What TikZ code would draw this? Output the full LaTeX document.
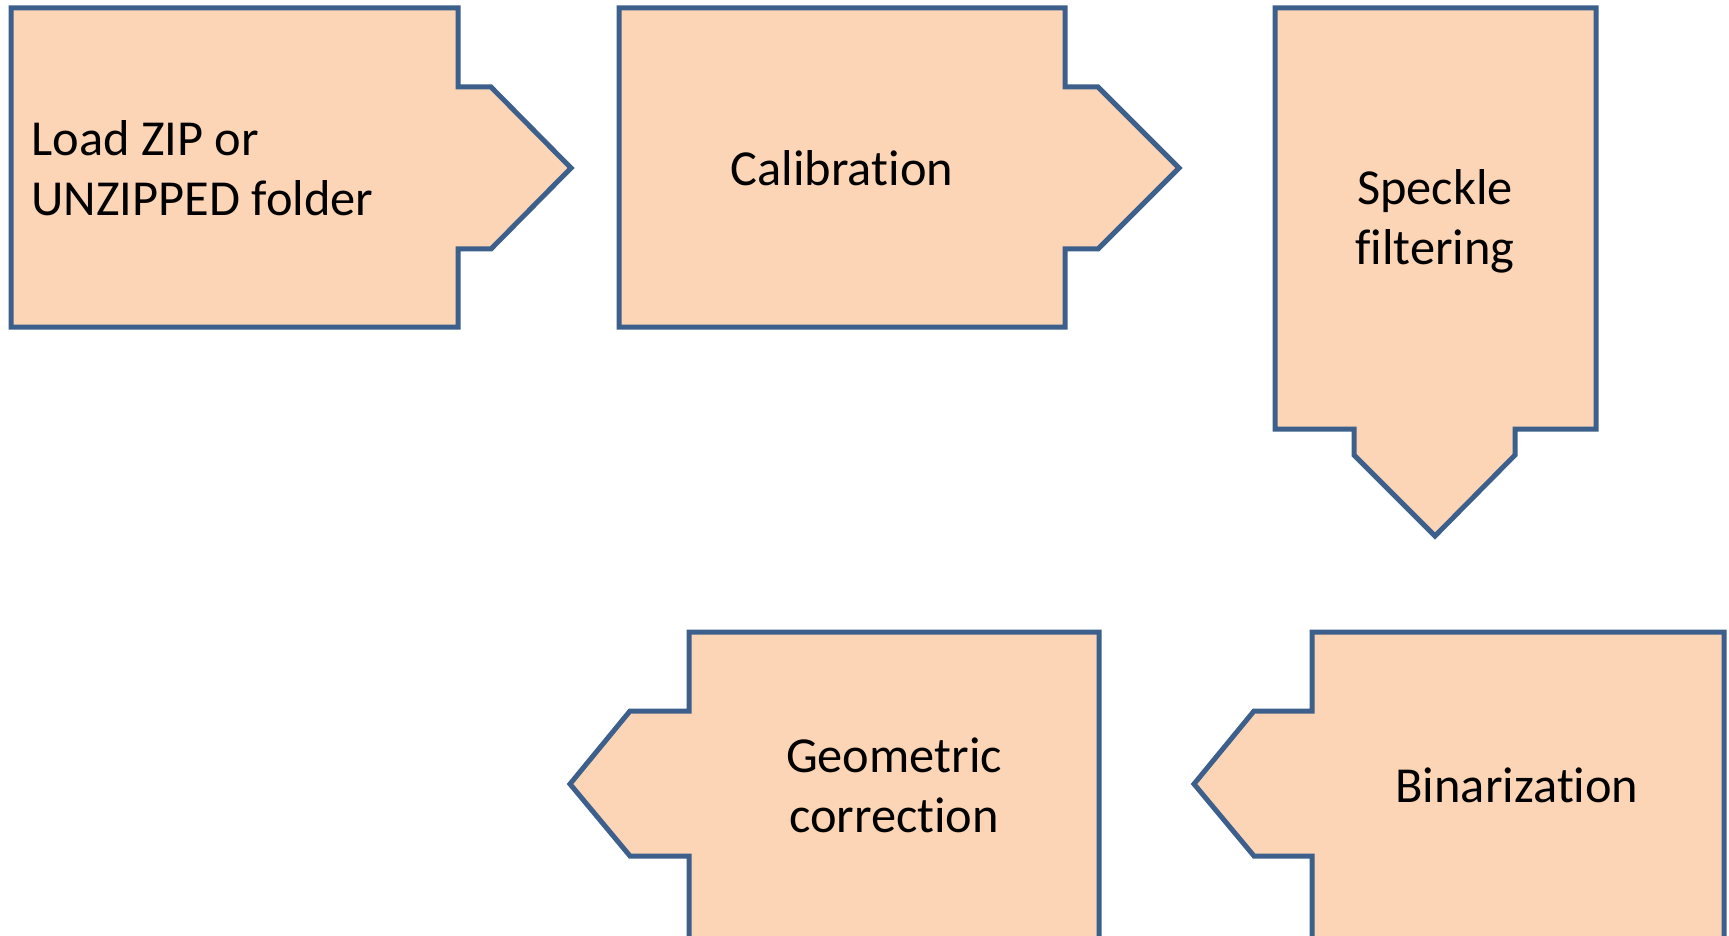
\documentclass[tikz,border=0pt]{standalone}
\usepackage{fontspec}
\setmainfont{Carlito}[Ligatures={NoCommon,NoContextual}]
\usepackage{tikz}
\usetikzlibrary{positioning}

\definecolor{boxfill}{HTML}{FBD5B5}
\definecolor{boxline}{HTML}{3C5F8C}

\begin{document}
\begin{tikzpicture}[x=0.5pt,y=-0.5pt,
    procbox/.style={fill=boxfill,draw=boxline,line width=2.5pt,line join=miter},
    lbl/.style={font=\fontsize{25.2}{30}\selectfont,align=center,inner sep=0pt}]
  \useasboundingbox (0,0) rectangle (1729,936);
  \clip (0,0) rectangle (1729,936);
  % top row, pointing right
  \draw[procbox] (11,8) -- (458,8) -- (458,87) -- (491,87) -- (571,168)
    -- (491,249) -- (458,249) -- (458,327) -- (11,327) -- cycle;
  \node[lbl,anchor=west,align=left] (load) at (31,168) {Load ZIP or\\UNZIPPED folder};
  \draw[procbox] (619,8) -- (1065,8) -- (1065,87) -- (1098,87) -- (1179,168)
    -- (1098,249) -- (1065,249) -- (1065,327) -- (619,327) -- cycle;
  \node[lbl] (calib) at (842,168) {Calibration};
  % pointing down
  \draw[procbox] (1275,8) -- (1596,8) -- (1596,429) -- (1515,429) -- (1515,455)
    -- (1435,536) -- (1354,455) -- (1354,429) -- (1275,429) -- cycle;
  \node[lbl] (speckle) at (1435,221) {Speckle\\filtering};
  % bottom row, pointing left
  \draw[procbox] (1724,632) -- (1724,945) -- (1312,945) -- (1312,856) -- (1254,856)
    -- (1194,784) -- (1254,711) -- (1312,711) -- (1312,632) -- cycle;
  \node[lbl] (binar) at (1517,785) {Binarization};
  \draw[procbox] (1099,632) -- (1099,945) -- (689,945) -- (689,856) -- (630,856)
    -- (570,784) -- (630,711) -- (689,711) -- (689,632) -- cycle;
  \node[lbl] (geom) at (894,785) {Geometric\\correction};
\end{tikzpicture}
\end{document}
